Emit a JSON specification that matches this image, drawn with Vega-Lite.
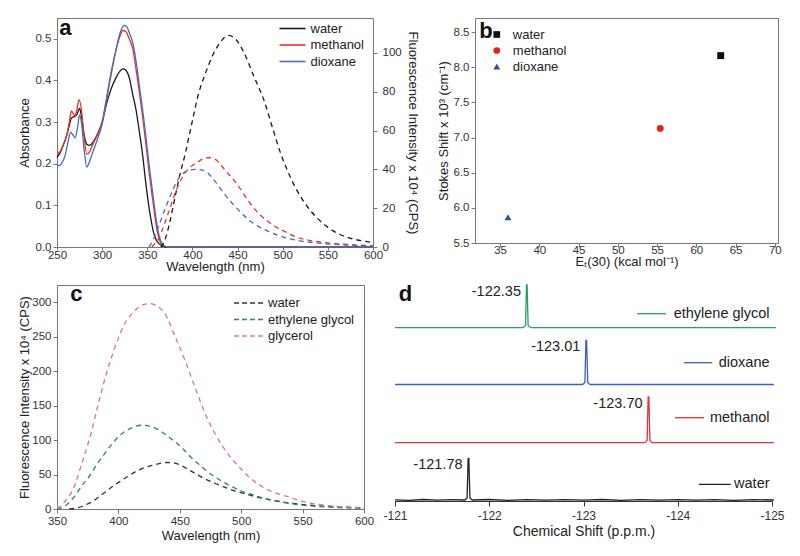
{
  "$schema": "https://vega.github.io/schema/vega-lite/v6.json",
  "background": "white",
  "padding": {"left": 18, "top": 17, "right": 5, "bottom": 5},
  "config": {
    "font": "Liberation Sans",
    "view": {"stroke": null},
    "axis": {"grid": false, "labelOverlap": false, "labelFlush": false, "domainColor": "#777", "tickColor": "#777", "labelColor": "#333", "titleColor": "#222", "labelFontSize": 11.5, "titleFontSize": 13, "titleFontWeight": "normal", "tickSize": 4, "labelPadding": 2, "titlePadding": 3, "labelFont": "Liberation Sans", "titleFont": "Liberation Sans"},
    "legend": {"labelFontSize": 13, "labelColor": "#222", "labelFont": "Liberation Sans", "padding": 0}
  },
  "datasets": {
    "one": [{}],
    "frameA": [{"x1": 250, "x2": 600, "y1": 0.55, "y2": 0.55}],
    "frameB": [{"x1": 31.8, "x2": 70.4, "y1": 8.7, "y2": 8.7}, {"x1": 70.4, "x2": 70.4, "y1": 5.5, "y2": 8.7}],
    "frameC": [{"x1": 350, "x2": 600, "y1": 325, "y2": 325}, {"x1": 600, "x2": 600, "y1": 0, "y2": 325}],
    "abs": [
      {"s":"water","nm":250,"a":0.215},{"s":"water","nm":253,"a":0.225},{"s":"water","nm":257,"a":0.245},{"s":"water","nm":261,"a":0.27},{"s":"water","nm":264,"a":0.295},{"s":"water","nm":266,"a":0.31},{"s":"water","nm":269,"a":0.313},{"s":"water","nm":272,"a":0.318},{"s":"water","nm":275,"a":0.333},{"s":"water","nm":277,"a":0.315},{"s":"water","nm":280,"a":0.27},{"s":"water","nm":283,"a":0.247},{"s":"water","nm":286,"a":0.244},{"s":"water","nm":290,"a":0.252},{"s":"water","nm":295,"a":0.272},{"s":"water","nm":300,"a":0.3},{"s":"water","nm":305,"a":0.345},{"s":"water","nm":310,"a":0.38},{"s":"water","nm":315,"a":0.405},{"s":"water","nm":320,"a":0.423},{"s":"water","nm":323,"a":0.428},{"s":"water","nm":326,"a":0.425},{"s":"water","nm":330,"a":0.407},{"s":"water","nm":334,"a":0.365},{"s":"water","nm":337.5,"a":0.33},{"s":"water","nm":341,"a":0.28},{"s":"water","nm":344.8,"a":0.222},{"s":"water","nm":348,"a":0.16},{"s":"water","nm":352,"a":0.094},{"s":"water","nm":355,"a":0.055},{"s":"water","nm":357.6,"a":0.03},{"s":"water","nm":360,"a":0.017},{"s":"water","nm":363,"a":0.008},{"s":"water","nm":367,"a":0.002},{"s":"water","nm":372,"a":0},{"s":"water","nm":600,"a":0},
      {"s":"methanol","nm":250,"a":0.225},{"s":"methanol","nm":253,"a":0.228},{"s":"methanol","nm":257,"a":0.245},{"s":"methanol","nm":261,"a":0.27},{"s":"methanol","nm":264,"a":0.305},{"s":"methanol","nm":266,"a":0.327},{"s":"methanol","nm":268,"a":0.32},{"s":"methanol","nm":270,"a":0.315},{"s":"methanol","nm":272,"a":0.33},{"s":"methanol","nm":274.5,"a":0.354},{"s":"methanol","nm":277,"a":0.33},{"s":"methanol","nm":280,"a":0.265},{"s":"methanol","nm":283,"a":0.223},{"s":"methanol","nm":286,"a":0.228},{"s":"methanol","nm":290,"a":0.248},{"s":"methanol","nm":295,"a":0.27},{"s":"methanol","nm":300,"a":0.3},{"s":"methanol","nm":305,"a":0.36},{"s":"methanol","nm":310,"a":0.42},{"s":"methanol","nm":315,"a":0.47},{"s":"methanol","nm":320,"a":0.508},{"s":"methanol","nm":323,"a":0.52},{"s":"methanol","nm":326,"a":0.518},{"s":"methanol","nm":330,"a":0.5},{"s":"methanol","nm":334,"a":0.475},{"s":"methanol","nm":338,"a":0.42},{"s":"methanol","nm":341,"a":0.375},{"s":"methanol","nm":345,"a":0.31},{"s":"methanol","nm":348,"a":0.255},{"s":"methanol","nm":352,"a":0.18},{"s":"methanol","nm":355.7,"a":0.118},{"s":"methanol","nm":358,"a":0.08},{"s":"methanol","nm":361,"a":0.038},{"s":"methanol","nm":364,"a":0.014},{"s":"methanol","nm":367,"a":0.004},{"s":"methanol","nm":372,"a":0},{"s":"methanol","nm":600,"a":0},
      {"s":"dioxane","nm":250,"a":0.2},{"s":"dioxane","nm":252,"a":0.195},{"s":"dioxane","nm":255,"a":0.2},{"s":"dioxane","nm":259,"a":0.22},{"s":"dioxane","nm":262,"a":0.25},{"s":"dioxane","nm":265,"a":0.275},{"s":"dioxane","nm":268,"a":0.268},{"s":"dioxane","nm":270,"a":0.262},{"s":"dioxane","nm":273,"a":0.29},{"s":"dioxane","nm":275,"a":0.317},{"s":"dioxane","nm":277,"a":0.3},{"s":"dioxane","nm":280,"a":0.235},{"s":"dioxane","nm":283,"a":0.192},{"s":"dioxane","nm":286,"a":0.205},{"s":"dioxane","nm":290,"a":0.23},{"s":"dioxane","nm":295,"a":0.26},{"s":"dioxane","nm":300,"a":0.295},{"s":"dioxane","nm":305,"a":0.355},{"s":"dioxane","nm":310,"a":0.415},{"s":"dioxane","nm":315,"a":0.47},{"s":"dioxane","nm":320,"a":0.515},{"s":"dioxane","nm":324.5,"a":0.532},{"s":"dioxane","nm":327,"a":0.53},{"s":"dioxane","nm":330,"a":0.515},{"s":"dioxane","nm":334,"a":0.49},{"s":"dioxane","nm":338,"a":0.44},{"s":"dioxane","nm":342,"a":0.375},{"s":"dioxane","nm":346,"a":0.31},{"s":"dioxane","nm":349,"a":0.255},{"s":"dioxane","nm":353,"a":0.18},{"s":"dioxane","nm":356.7,"a":0.118},{"s":"dioxane","nm":359,"a":0.08},{"s":"dioxane","nm":362,"a":0.038},{"s":"dioxane","nm":365,"a":0.014},{"s":"dioxane","nm":368,"a":0.004},{"s":"dioxane","nm":373,"a":0},{"s":"dioxane","nm":600,"a":0}
    ],
    "flA": [
      {"s":"water","nm":365,"f":0},{"s":"water","nm":368,"f":2},{"s":"water","nm":370.3,"f":4.7},{"s":"water","nm":375,"f":13},{"s":"water","nm":381.3,"f":27},{"s":"water","nm":386,"f":37},{"s":"water","nm":392,"f":48},{"s":"water","nm":399,"f":63},{"s":"water","nm":406.8,"f":79},{"s":"water","nm":414,"f":89},{"s":"water","nm":421.4,"f":97.7},{"s":"water","nm":430,"f":105},{"s":"water","nm":440,"f":109},{"s":"water","nm":448,"f":107},{"s":"water","nm":457.8,"f":99.5},{"s":"water","nm":468,"f":88},{"s":"water","nm":479.7,"f":75},{"s":"water","nm":489,"f":61},{"s":"water","nm":497.9,"f":48},{"s":"water","nm":507,"f":37.5},{"s":"water","nm":516.2,"f":28.8},{"s":"water","nm":527,"f":21},{"s":"water","nm":538,"f":15},{"s":"water","nm":549,"f":10.5},{"s":"water","nm":560,"f":7.2},{"s":"water","nm":575,"f":4.5},{"s":"water","nm":590,"f":3},{"s":"water","nm":600,"f":2.3},
      {"s":"methanol","nm":355,"f":0},{"s":"methanol","nm":358,"f":1.5},{"s":"methanol","nm":361,"f":3},{"s":"methanol","nm":366,"f":8},{"s":"methanol","nm":374,"f":18.5},{"s":"methanol","nm":381,"f":28},{"s":"methanol","nm":388.6,"f":35.7},{"s":"methanol","nm":395,"f":40},{"s":"methanol","nm":400,"f":42},{"s":"methanol","nm":405,"f":43.5},{"s":"methanol","nm":412,"f":45.5},{"s":"methanol","nm":418,"f":46},{"s":"methanol","nm":425,"f":45.3},{"s":"methanol","nm":432,"f":42},{"s":"methanol","nm":438,"f":38.5},{"s":"methanol","nm":443,"f":36},{"s":"methanol","nm":450,"f":32},{"s":"methanol","nm":461.5,"f":24},{"s":"methanol","nm":470,"f":19},{"s":"methanol","nm":480,"f":14.5},{"s":"methanol","nm":490,"f":11},{"s":"methanol","nm":498,"f":9},{"s":"methanol","nm":516,"f":5},{"s":"methanol","nm":535,"f":3},{"s":"methanol","nm":552,"f":2},{"s":"methanol","nm":575,"f":1.2},{"s":"methanol","nm":600,"f":0.6},
      {"s":"dioxane","nm":352,"f":0},{"s":"dioxane","nm":355.8,"f":3},{"s":"dioxane","nm":362,"f":10},{"s":"dioxane","nm":370,"f":20},{"s":"dioxane","nm":377,"f":28},{"s":"dioxane","nm":385,"f":35.5},{"s":"dioxane","nm":391,"f":38.5},{"s":"dioxane","nm":396,"f":39.6},{"s":"dioxane","nm":405,"f":40},{"s":"dioxane","nm":412,"f":39.5},{"s":"dioxane","nm":421.4,"f":36},{"s":"dioxane","nm":428,"f":32},{"s":"dioxane","nm":436,"f":27},{"s":"dioxane","nm":445,"f":22},{"s":"dioxane","nm":454,"f":17.6},{"s":"dioxane","nm":465,"f":13},{"s":"dioxane","nm":479.7,"f":9},{"s":"dioxane","nm":495,"f":6},{"s":"dioxane","nm":516,"f":3.4},{"s":"dioxane","nm":540,"f":2},{"s":"dioxane","nm":570,"f":1},{"s":"dioxane","nm":600,"f":0.5}
    ],
    "stokes": [
      {"s":"water","et":63.1,"shift":8.165},
      {"s":"methanol","et":55.4,"shift":7.13},
      {"s":"dioxane","et":36.0,"shift":5.865}
    ],
    "flC": [
      {"s":"water","nm":360,"f":0},{"s":"water","nm":365,"f":1},{"s":"water","nm":372,"f":5},{"s":"water","nm":379.8,"f":12},{"s":"water","nm":385,"f":19},{"s":"water","nm":390.7,"f":26.5},{"s":"water","nm":396,"f":33.5},{"s":"water","nm":402.2,"f":41},{"s":"water","nm":408,"f":48},{"s":"water","nm":415.4,"f":55.5},{"s":"water","nm":422,"f":60.5},{"s":"water","nm":429.2,"f":64},{"s":"water","nm":435,"f":66.5},{"s":"water","nm":440,"f":67.5},{"s":"water","nm":446,"f":66.5},{"s":"water","nm":454.4,"f":60},{"s":"water","nm":462,"f":52},{"s":"water","nm":470.9,"f":43.4},{"s":"water","nm":479,"f":37},{"s":"water","nm":487.4,"f":31},{"s":"water","nm":495,"f":26},{"s":"water","nm":503.9,"f":21.7},{"s":"water","nm":512,"f":17.5},{"s":"water","nm":520.3,"f":14.5},{"s":"water","nm":530,"f":11},{"s":"water","nm":542.3,"f":8},{"s":"water","nm":558,"f":5.2},{"s":"water","nm":575.3,"f":3.4},{"s":"water","nm":590,"f":2.2},{"s":"water","nm":600,"f":1.5},
      {"s":"ethylene glycol","nm":350,"f":0},{"s":"ethylene glycol","nm":355,"f":3},{"s":"ethylene glycol","nm":363.7,"f":17},{"s":"ethylene glycol","nm":370,"f":33},{"s":"ethylene glycol","nm":377.5,"f":50.6},{"s":"ethylene glycol","nm":383,"f":66},{"s":"ethylene glycol","nm":388.5,"f":79.6},{"s":"ethylene glycol","nm":395,"f":95},{"s":"ethylene glycol","nm":402.2,"f":108.5},{"s":"ethylene glycol","nm":410,"f":117},{"s":"ethylene glycol","nm":418.7,"f":121.5},{"s":"ethylene glycol","nm":428,"f":119},{"s":"ethylene glycol","nm":438,"f":108.5},{"s":"ethylene glycol","nm":445,"f":99},{"s":"ethylene glycol","nm":451.7,"f":89},{"s":"ethylene glycol","nm":458,"f":77},{"s":"ethylene glycol","nm":465.4,"f":65},{"s":"ethylene glycol","nm":472,"f":55},{"s":"ethylene glycol","nm":479,"f":46},{"s":"ethylene glycol","nm":486,"f":38.5},{"s":"ethylene glycol","nm":492.8,"f":32},{"s":"ethylene glycol","nm":500,"f":26},{"s":"ethylene glycol","nm":509.3,"f":20.7},{"s":"ethylene glycol","nm":517,"f":16},{"s":"ethylene glycol","nm":525.8,"f":13},{"s":"ethylene glycol","nm":537,"f":9},{"s":"ethylene glycol","nm":547.8,"f":6},{"s":"ethylene glycol","nm":560,"f":4},{"s":"ethylene glycol","nm":580,"f":2},{"s":"ethylene glycol","nm":600,"f":1},
      {"s":"glycerol","nm":350,"f":0},{"s":"glycerol","nm":357,"f":12},{"s":"glycerol","nm":363.7,"f":31},{"s":"glycerol","nm":370,"f":65},{"s":"glycerol","nm":377.5,"f":108.5},{"s":"glycerol","nm":383,"f":148},{"s":"glycerol","nm":388.5,"f":185.7},{"s":"glycerol","nm":394,"f":218},{"s":"glycerol","nm":399.5,"f":246},{"s":"glycerol","nm":405,"f":268},{"s":"glycerol","nm":410.4,"f":282},{"s":"glycerol","nm":416,"f":292},{"s":"glycerol","nm":421,"f":297},{"s":"glycerol","nm":425.6,"f":298},{"s":"glycerol","nm":431,"f":295},{"s":"glycerol","nm":438,"f":283},{"s":"glycerol","nm":446.2,"f":250},{"s":"glycerol","nm":454.4,"f":215},{"s":"glycerol","nm":465.4,"f":162},{"s":"glycerol","nm":472,"f":133},{"s":"glycerol","nm":479,"f":108.5},{"s":"glycerol","nm":486,"f":88},{"s":"glycerol","nm":492.8,"f":72},{"s":"glycerol","nm":500,"f":58},{"s":"glycerol","nm":506.6,"f":46},{"s":"glycerol","nm":513,"f":37},{"s":"glycerol","nm":520.3,"f":29},{"s":"glycerol","nm":530,"f":22},{"s":"glycerol","nm":539.6,"f":17},{"s":"glycerol","nm":550,"f":11},{"s":"glycerol","nm":561.6,"f":7},{"s":"glycerol","nm":575,"f":4},{"s":"glycerol","nm":590,"f":2.5},{"s":"glycerol","nm":600,"f":2}
    ],
    "nmr": [
      {"s":"ethylene glycol","ppm":-121.0,"v":173.3},{"s":"ethylene glycol","ppm":-122.36,"v":173.3},{"s":"ethylene glycol","ppm":-122.385,"v":175.5},{"s":"ethylene glycol","ppm":-122.395,"v":216},{"s":"ethylene glycol","ppm":-122.402,"v":216},{"s":"ethylene glycol","ppm":-122.412,"v":175.5},{"s":"ethylene glycol","ppm":-122.44,"v":173.3},{"s":"ethylene glycol","ppm":-125.04,"v":173.3},
      {"s":"dioxane","ppm":-121.0,"v":116.5},{"s":"dioxane","ppm":-122.99,"v":116.5},{"s":"dioxane","ppm":-123.015,"v":118.5},{"s":"dioxane","ppm":-123.026,"v":160.7},{"s":"dioxane","ppm":-123.033,"v":160.7},{"s":"dioxane","ppm":-123.045,"v":118.5},{"s":"dioxane","ppm":-123.07,"v":116.5},{"s":"dioxane","ppm":-125.02,"v":116.5},
      {"s":"methanol","ppm":-121.0,"v":58.3},{"s":"methanol","ppm":-123.65,"v":58.3},{"s":"methanol","ppm":-123.675,"v":60.5},{"s":"methanol","ppm":-123.686,"v":104},{"s":"methanol","ppm":-123.693,"v":104},{"s":"methanol","ppm":-123.705,"v":60.5},{"s":"methanol","ppm":-123.73,"v":58.3},{"s":"methanol","ppm":-125.02,"v":58.3},
      {"s":"water","ppm":-121.0,"v":1.2},{"s":"water","ppm":-121.15,"v":0.6},{"s":"water","ppm":-121.3,"v":1.5},{"s":"water","ppm":-121.45,"v":0.8},{"s":"water","ppm":-121.6,"v":1.4},{"s":"water","ppm":-121.74,"v":1},{"s":"water","ppm":-121.765,"v":3},{"s":"water","ppm":-121.776,"v":42.7},{"s":"water","ppm":-121.783,"v":42.7},{"s":"water","ppm":-121.795,"v":3},{"s":"water","ppm":-121.82,"v":1},{"s":"water","ppm":-122.0,"v":1.5},{"s":"water","ppm":-122.2,"v":0.7},{"s":"water","ppm":-122.4,"v":1.3},{"s":"water","ppm":-122.6,"v":0.8},{"s":"water","ppm":-122.8,"v":1.4},{"s":"water","ppm":-123.0,"v":0.9},{"s":"water","ppm":-123.2,"v":1.5},{"s":"water","ppm":-123.4,"v":0.7},{"s":"water","ppm":-123.6,"v":1.3},{"s":"water","ppm":-123.8,"v":0.9},{"s":"water","ppm":-124.0,"v":1.4},{"s":"water","ppm":-124.2,"v":0.8},{"s":"water","ppm":-124.4,"v":1.3},{"s":"water","ppm":-124.6,"v":0.7},{"s":"water","ppm":-124.8,"v":1.4},{"s":"water","ppm":-125.02,"v":1}
    ],
    "nmrPeaks": [
      {"s":"ethylene glycol","peak":-122.40,"top":216,"label":"-122.35"},
      {"s":"dioxane","peak":-123.03,"top":160.7,"label":"-123.01"},
      {"s":"methanol","peak":-123.69,"top":104,"label":"-123.70"},
      {"s":"water","peak":-121.78,"top":42.7,"label":"-121.78"}
    ],
    "nmrKey": [
      {"s":"ethylene glycol","x1":-123.568,"x2":-123.876,"y":187.3},
      {"s":"dioxane","x1":-124.066,"x2":-124.366,"y":138.3},
      {"s":"methanol","x1":-123.971,"x2":-124.279,"y":83.3},
      {"s":"water","x1":-124.225,"x2":-124.562,"y":16.7}
    ]
  },
  "resolve": {"scale": {"color": "independent", "shape": "independent", "strokeWidth": "independent", "x": "independent", "y": "independent"}},
  "spacing": 8,
  "vconcat": [
    {
      "resolve": {"scale": {"color": "independent", "shape": "independent", "x": "independent", "y": "independent"}},
      "spacing": 18,
      "hconcat": [
        {
          "width": 316,
          "height": 229,
          "resolve": {"scale": {"y": "independent"}},
          "layer": [
            {
              "data": {"name": "frameA"},
              "mark": {"type": "rule", "color": "#777", "strokeWidth": 1, "yOffset": 0.5, "y2Offset": 0.5},
              "encoding": {
                "x": {"field": "x1", "type": "quantitative"},
                "x2": {"field": "x2"},
                "y": {"field": "y1", "type": "quantitative", "scale": {"domain": [0, 0.55], "nice": false}, "axis": null},
                "y2": {"field": "y2"}
              }
            },
            {
              "data": {"name": "abs"},
              "mark": {"type": "line", "strokeWidth": 1.3, "interpolate": "monotone"},
              "encoding": {
                "x": {"field": "nm", "type": "quantitative", "scale": {"domain": [250, 600], "nice": false, "zero": false}, "axis": {"values": [250, 300, 350, 400, 450, 500, 550, 600], "tickCount": 20, "title": "Wavelength (nm)", "tickSize": 3, "labelPadding": -1, "titlePadding": 0, "labelFlush": false, "labelOverlap": false}},
                "y": {"field": "a", "type": "quantitative", "scale": {"domain": [0, 0.55], "nice": false}, "axis": {"values": [0, 0.1, 0.2, 0.3, 0.4, 0.5], "tickCount": 20, "format": ".1f", "title": "Absorbance", "titlePadding": 3.7, "labelOverlap": false}},
                "color": {"field": "s", "type": "nominal", "scale": {"domain": ["water", "methanol", "dioxane"], "range": ["#1a1a1a", "#e8312b", "#4a6db5"]}, "legend": {"title": null, "orient": "none", "legendX": 228, "legendY": 3, "symbolType": "M-2,0L2,0", "symbolSize": 169, "symbolStrokeWidth": 1.6, "labelOffset": 10.5, "rowPadding": 1.5, "labelFontSize": 13}}
              }
            },
            {
              "data": {"name": "one"},
              "mark": {"type": "text", "text": "a", "fontSize": 22, "fontWeight": "bold", "align": "left", "baseline": "alphabetic", "color": "#111"},
              "encoding": {
                "x": {"datum": 252.5, "type": "quantitative"},
                "y": {"datum": 0.508, "type": "quantitative", "scale": {"domain": [0, 0.55], "nice": false}, "axis": null}
              }
            },
            {
              "data": {"name": "flA"},
              "mark": {"type": "line", "strokeWidth": 1.3, "strokeDash": [5, 4], "interpolate": "monotone"},
              "encoding": {
                "x": {"field": "nm", "type": "quantitative"},
                "y": {"field": "f", "type": "quantitative", "scale": {"domain": [0, 118], "nice": false}, "axis": {"orient": "right", "values": [0, 20, 40, 60, 80, 100], "tickCount": 20, "title": "Fluorescence Intensity x 10⁴ (CPS)", "labelPadding": 5, "titlePadding": 4, "labelOverlap": false}},
                "color": {"field": "s", "type": "nominal"}
              }
            }
          ]
        },
        {
          "width": 303,
          "height": 225,
          "layer": [
            {
              "data": {"name": "frameB"},
              "mark": {"type": "rule", "color": "#777", "strokeWidth": 1, "xOffset": 0.5, "x2Offset": 0.5, "yOffset": 0.5, "y2Offset": 0.5},
              "encoding": {
                "x": {"field": "x1", "type": "quantitative"},
                "x2": {"field": "x2"},
                "y": {"field": "y1", "type": "quantitative"},
                "y2": {"field": "y2"}
              }
            },
            {
              "data": {"name": "stokes"},
              "mark": {"type": "point", "filled": true, "size": 48, "opacity": 1},
              "encoding": {
                "x": {"field": "et", "type": "quantitative", "scale": {"domain": [31.8, 70.4], "nice": false, "zero": false}, "axis": {"values": [35, 40, 45, 50, 55, 60, 65, 70], "tickCount": 20, "title": "Eₜ(30) (kcal mol⁻¹)", "labelPadding": -3, "titlePadding": 0, "labelOverlap": false}},
                "y": {"field": "shift", "type": "quantitative", "scale": {"domain": [5.5, 8.7], "nice": false, "zero": false}, "axis": {"values": [5.5, 6.0, 6.5, 7.0, 7.5, 8.0, 8.5], "tickCount": 20, "format": ".1f", "title": "Stokes Shift x 10³ (cm⁻¹)", "labelOverlap": false}},
                "color": {"field": "s", "type": "nominal", "scale": {"domain": ["water", "methanol", "dioxane"], "range": ["#111111", "#e8201c", "#2b4f8f"]}, "legend": {"title": null, "orient": "none", "legendX": 15.3, "legendY": 10, "labelOffset": 9.5, "rowPadding": 2, "labelFontSize": 13, "symbolSize": 45}},
                "shape": {"field": "s", "type": "nominal", "scale": {"domain": ["water", "methanol", "dioxane"], "range": ["square", "circle", "triangle-up"]}, "legend": {"title": null, "orient": "none", "legendX": 15.3, "legendY": 10, "labelOffset": 9.5, "rowPadding": 2, "labelFontSize": 13, "symbolSize": 45}}
              }
            },
            {
              "data": {"name": "one"},
              "mark": {"type": "text", "text": "b", "fontSize": 22, "fontWeight": "bold", "align": "left", "baseline": "alphabetic", "color": "#111"},
              "encoding": {"x": {"datum": 32.35, "type": "quantitative"}, "y": {"datum": 8.415, "type": "quantitative"}}
            }
          ]
        }
      ]
    },
    {
      "resolve": {"scale": {"color": "independent", "strokeWidth": "independent", "x": "independent", "y": "independent"}},
      "spacing": 8,
      "hconcat": [
        {
          "width": 307,
          "height": 224,
          "layer": [
            {
              "data": {"name": "frameC"},
              "mark": {"type": "rule", "color": "#777", "strokeWidth": 1, "xOffset": 0.5, "x2Offset": 0.5, "yOffset": 0.5, "y2Offset": 0.5},
              "encoding": {
                "x": {"field": "x1", "type": "quantitative"},
                "x2": {"field": "x2"},
                "y": {"field": "y1", "type": "quantitative"},
                "y2": {"field": "y2"}
              }
            },
            {
              "data": {"name": "flC"},
              "mark": {"type": "line", "strokeWidth": 1.3, "strokeDash": [5, 4], "interpolate": "monotone"},
              "encoding": {
                "x": {"field": "nm", "type": "quantitative", "scale": {"domain": [350, 600], "nice": false, "zero": false}, "axis": {"values": [350, 400, 450, 500, 550, 600], "tickCount": 20, "title": "Wavelength (nm)", "labelFlush": false, "labelOverlap": false}},
                "y": {"field": "f", "type": "quantitative", "scale": {"domain": [0, 325], "nice": false}, "axis": {"values": [0, 50, 100, 150, 200, 250, 300], "tickCount": 20, "title": "Fluorescence Intensity x 10⁴ (CPS)", "titlePadding": 0.5, "labelOverlap": false}},
                "color": {"field": "s", "type": "nominal", "scale": {"domain": ["water", "ethylene glycol", "glycerol"], "range": ["#333333", "#2a8a5a", "#d672a8"]}, "legend": {"title": null, "orient": "none", "legendX": 183.5, "legendY": 9.5, "symbolType": "M-2,0L2,0", "symbolSize": 225, "symbolDash": [5, 3], "symbolStrokeWidth": 1.4, "labelOffset": 10.5, "rowPadding": 0.5, "labelFontSize": 13}}
              }
            },
            {
              "data": {"name": "one"},
              "mark": {"type": "text", "text": "c", "fontSize": 22, "fontWeight": "bold", "align": "left", "baseline": "alphabetic", "color": "#111"},
              "encoding": {"x": {"datum": 360.8, "type": "quantitative"}, "y": {"datum": 301.4, "type": "quantitative"}}
            }
          ]
        },
        {
          "width": 377,
          "height": 216,
          "layer": [
            {
              "data": {"name": "nmr"},
              "mark": {"type": "line"},
              "encoding": {
                "x": {"field": "ppm", "type": "quantitative", "scale": {"domain": [-121, -125], "nice": false, "zero": false}, "axis": {"values": [-121, -122, -123, -124, -125], "tickCount": 20, "labelExpr": "'-' + abs(datum.value)", "title": "Chemical Shift (p.p.m.)", "titleFontSize": 14, "labelFontSize": 12, "domainColor": "#333", "tickColor": "#333", "tickSize": 5, "labelPadding": 4, "titlePadding": 3, "labelFlush": false, "labelOverlap": false}},
                "y": {"field": "v", "type": "quantitative", "scale": {"domain": [0, 216], "nice": false, "zero": false}, "axis": null},
                "color": {"field": "s", "type": "nominal", "scale": {"domain": ["ethylene glycol", "dioxane", "methanol", "water"], "range": ["#2aa061", "#3d5cc4", "#e8303a", "#222222"]}, "legend": null},
                "strokeWidth": {"field": "s", "type": "nominal", "scale": {"domain": ["ethylene glycol", "dioxane", "methanol", "water"], "range": [1.3, 1.3, 1.3, 2.4]}, "legend": null}
              }
            },
            {
              "data": {"name": "nmrPeaks"},
              "mark": {"type": "text", "fontSize": 14.5, "align": "right", "baseline": "top", "dx": -6, "dy": 0, "color": "#222"},
              "encoding": {
                "x": {"field": "peak", "type": "quantitative"},
                "y": {"field": "top", "type": "quantitative"},
                "text": {"field": "label"}
              }
            },
            {
              "data": {"name": "nmrKey"},
              "mark": {"type": "rule", "strokeWidth": 1.3},
              "encoding": {
                "x": {"field": "x1", "type": "quantitative"},
                "x2": {"field": "x2"},
                "y": {"field": "y", "type": "quantitative"},
                "color": {"field": "s", "type": "nominal"}
              }
            },
            {
              "data": {"name": "nmrKey"},
              "mark": {"type": "text", "fontSize": 14.5, "align": "right", "baseline": "middle", "color": "#222"},
              "encoding": {
                "x": {"datum": -124.974, "type": "quantitative"},
                "y": {"field": "y", "type": "quantitative"},
                "text": {"field": "s"}
              }
            },
            {
              "data": {"name": "one"},
              "mark": {"type": "text", "text": "d", "fontSize": 22, "fontWeight": "bold", "align": "left", "baseline": "alphabetic", "color": "#111"},
              "encoding": {"x": {"datum": -121.04, "type": "quantitative"}, "y": {"datum": 200, "type": "quantitative"}}
            }
          ]
        }
      ]
    }
  ]
}
